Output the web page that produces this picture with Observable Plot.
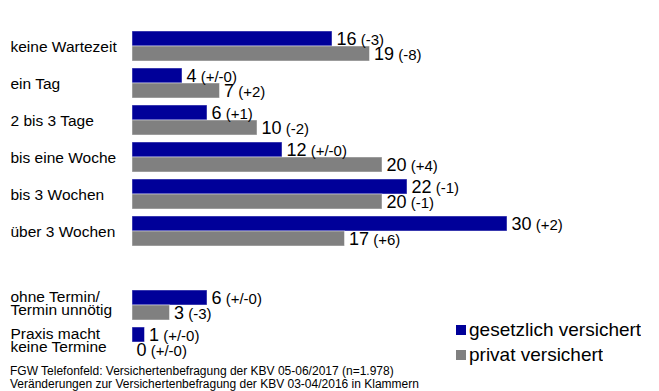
<!DOCTYPE html>
<html>
<head>
<meta charset="utf-8">
<script src="https://cdn.jsdelivr.net/npm/d3@7"></script>
<script src="https://cdn.jsdelivr.net/npm/@observablehq/plot@0.6"></script>
<style>
  body { margin: 0; background: #fff; }
  #wrap { position: relative; width: 659px; height: 391px; overflow: hidden; font-family: "Liberation Sans", Arial, Helvetica, sans-serif; }
  #legend { position: absolute; left: 456px; top: 318px; }
  .ins-swatch > svg { margin-right: 3px !important; }
  #caption { position: absolute; left: 10px; top: 365px; font-size: 12px; line-height: 13px; color: #000; white-space: nowrap; }
</style>
</head>
<body>
<div id="wrap"></div>
<script>
// Wartezeit auf einen Arzttermin, in Prozent
const categories = ["keine Wartezeit", "ein Tag", "2 bis 3 Tage", "bis eine Woche", "bis 3 Wochen", "über 3 Wochen"];
const otherCategories = ["ohne Termin/\nTermin unnötig", "Praxis macht\nkeine Termine"];
const series = ["gesetzlich versichert", "privat versichert"];
const colors = ["#000099", "#808080"];

const gesetzlich = [16, 4, 6, 12, 22, 30, 6, 1];
const gesetzlichChange = ["(-3)", "(+/-0)", "(+1)", "(+/-0)", "(-1)", "(+2)", "(+/-0)", "(+/-0)"];
const privat = [19, 7, 10, 20, 20, 17, 3, 0];
const privatChange = ["(-8)", "(+2)", "(-2)", "(+4)", "(-1)", "(+6)", "(-3)", "(+/-0)"];

const captionLines = [
  "FGW Telefonfeld: Versichertenbefragung der KBV 05-06/2017 (n=1.978)",
  "Veränderungen zur Versichertenbefragung der KBV 03-04/2016 in Klammern"
];

const allCategories = [...categories, ...otherCategories];
const spacer = " ";

const rowsG = allCategories.map((c, i) => ({category: c, series: series[0], value: gesetzlich[i], change: gesetzlichChange[i]}));
const rowsP = allCategories.map((c, i) => ({category: c, series: series[1], value: privat[i], change: privatChange[i]}));

const font = "Liberation Sans, Arial, Helvetica, sans-serif";

const chart = Plot.plot({
  width: 659,
  height: 362,
  marginLeft: 132,
  marginRight: 2,
  marginTop: 25.3,
  marginBottom: 0,
  style: {fontFamily: font, color: "#000", background: "#fff"},
  x: {domain: [0, 42], axis: null},
  y: {domain: [...categories, spacer, ...otherCategories], axis: null, paddingInner: 0.2, paddingOuter: 0.1},
  color: {domain: series, range: colors},
  marks: [
    Plot.barX(rowsG.filter(d => d.value > 0), {x: "value", y: "category", fill: "series", insetBottom: 15, stroke: "white", strokeOpacity: 0.45, strokeWidth: 1}),
    Plot.barX(rowsP.filter(d => d.value > 0), {x: "value", y: "category", fill: "series", insetTop: 15, stroke: "white", strokeOpacity: 0.45, strokeWidth: 1}),
    Plot.text(rowsG, {x: "value", y: "category", text: d => `${d.value}|${d.change}`, dy: -7.5, dx: 4, textAnchor: "start", fontSize: 18, fill: "#000", className: "value-label"}),
    Plot.text(rowsP, {x: "value", y: "category", text: d => `${d.value}|${d.change}`, dy: 7.5, dx: 4, textAnchor: "start", fontSize: 18, fill: "#000", className: "value-label"}),
    Plot.text(categories, {y: d => d, text: d => d, frameAnchor: "left", dx: -122, dy: 1, textAnchor: "start", fontSize: 15.5, fill: "#000"}),
    Plot.text(otherCategories, {y: d => d, text: d => d, frameAnchor: "left", dx: -122, dy: -1.5, textAnchor: "start", fontSize: 15.5, lineHeight: 0.9, fill: "#000"})
  ]
});

// number in large type, change in parentheses slightly smaller
d3.select(chart).selectAll(".value-label text").each(function() {
  const [num, chg] = this.textContent.split("|");
  const t = d3.select(this);
  t.text(null);
  t.append("tspan").text(num);
  t.append("tspan").attr("font-size", 15).text("\u00a0" + chg);
});

const wrap = document.getElementById("wrap");
wrap.appendChild(chart);

const legend = Plot.legend({
  color: {domain: series, range: colors},
  legend: "swatches",
  columns: 1,
  swatchSize: 10,
  className: "ins",
  style: {fontFamily: font, fontSize: "19px", lineHeight: "24px", color: "#000"}
});
const legendBox = document.createElement("div");
legendBox.id = "legend";
legendBox.appendChild(legend);
wrap.appendChild(legendBox);

const caption = document.createElement("div");
caption.id = "caption";
caption.innerHTML = captionLines.join("<br>");
wrap.appendChild(caption);
</script>
</body>
</html>
